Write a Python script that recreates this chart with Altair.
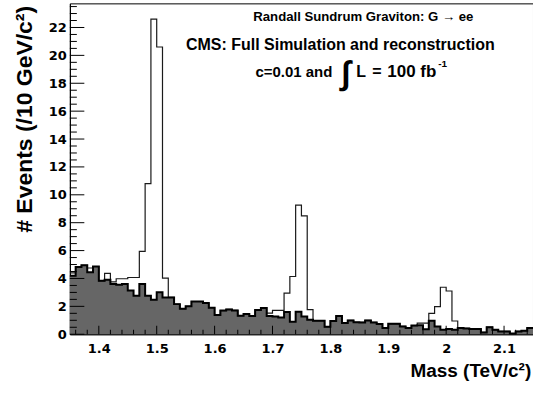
import altair as alt
import pandas as pd

# ---- data (events per 10 GeV bin) ----
bin_start = 1.35
bin_width = 0.01
background = [4.2, 4.82, 4.94, 4.45, 4.86, 3.83, 3.9, 3.6, 3.55, 3.6,
              3.14, 2.76, 3.6, 2.76, 2.47, 3.02, 2.64, 2.64, 2.16, 1.83,
              2.0, 2.35, 2.35, 2.24, 1.9, 1.38, 1.7, 1.78, 1.71, 1.33,
              1.45, 1.3, 1.74, 1.89, 1.3, 1.28, 1.2, 1.6, 0.9, 1.62,
              1.28, 1.04, 0.97, 0.97, 0.53, 0.95, 1.3, 0.8, 0.99, 0.86,
              0.85, 0.99, 0.85, 0.73, 0.44, 0.75, 0.75, 0.56, 0.44, 0.62,
              0.65, 0.35, 0.97, 0.56, 0.32, 0.37, 0.32, 0.44, 0.42, 0.37,
              0.37, 0.13, 0.51, 0.32, 0.2, 0.2, 0.05, 0.2, 0.25, 0.44]
total = [4.4, 4.82, 4.94, 4.75, 4.86, 3.83, 4.36, 3.76, 3.98, 3.98,
         4.07, 4.07, 5.94, 10.8, 22.6, 20.6, 4.03, 2.64, 2.16, 1.83,
         2.0, 2.35, 2.35, 2.24, 1.9, 1.38, 1.7, 1.78, 1.71, 1.33,
         1.45, 1.3, 1.74, 1.89, 1.52, 1.71, 1.71, 2.95, 4.14, 9.26,
         8.49, 1.76, 0.97, 0.97, 0.53, 0.95, 1.3, 0.8, 0.99, 0.86,
         0.85, 0.99, 0.85, 0.73, 0.44, 0.75, 0.75, 0.56, 0.44, 0.62,
         0.8, 0.8, 1.5, 1.98, 3.37, 3.1, 0.95, 0.44, 0.42, 0.37,
         0.37, 0.13, 0.51, 0.32, 0.2, 0.2, 0.05, 0.2, 0.25, 0.44]
x_tick_labels = [1.4, 1.5, 1.6, 1.7, 1.8, 1.9, 2.0, 2.1]
y_tick_labels = [0, 2, 4, 6, 8, 10, 12, 14, 16, 18, 20, 22]
x_domain = [1.35, 2.15]
y_domain = [0, 23.73]

n = len(background)
edges = [round(bin_start + bin_width * k, 2) for k in range(n + 1)]
df = pd.DataFrame({
    "mass": edges,
    "background": background + [background[-1]],
    "total": total + [total[-1]],
})

W, H = 464, 331.5
LABEL_FONT = "DejaVu Sans"
TEXT_FONT = "Liberation Sans, Arial, Helvetica"

xs = alt.Scale(domain=x_domain, nice=False, zero=False)
ys = alt.Scale(domain=y_domain, nice=False, zero=False)

x_axis = alt.Axis(values=x_tick_labels, format="~g", ticks=False, tickSize=0,
                  labelFont=LABEL_FONT, labelFontWeight="bold", labelFontSize=13,
                  labelColor="black", labelPadding=18.2, labelBaseline="alphabetic",
                  labelFlush=False, labelOverlap=False,
                  domain=True, domainColor="black", domainWidth=1, grid=False,
                  title="Mass (TeV/c²)", titleFont=TEXT_FONT, titleFontWeight="bold",
                  titleFontSize=19, titleColor="black", titleX=461.7, titleY=42.2,
                  titleAlign="right", titleAnchor="end", titleBaseline="alphabetic")
y_axis = alt.Axis(values=y_tick_labels, format="d", ticks=False, tickSize=0,
                  labelFont=LABEL_FONT, labelFontWeight="bold", labelFontSize=13,
                  labelColor="black", labelPadding=3.5, labelBaseline="middle",
                  labelFlush=False, labelOverlap=False,
                  domain=True, domainColor="black", domainWidth=1, grid=False,
                  title="# Events (/10 GeV/c²)", titleFont=TEXT_FONT, titleFontWeight="bold",
                  titleFontSize=23, titleColor="black", titleAngle=270, titleX=-38, titleY=2,
                  titleAlign="right", titleBaseline="alphabetic")

X = alt.X("mass:Q", scale=xs, axis=x_axis)

area = alt.Chart(df).mark_area(interpolate="step-after", color="#666666").encode(
    x=X, y=alt.Y("background:Q", scale=ys, axis=y_axis))
total_line = alt.Chart(df).mark_line(interpolate="step-after", color="#1a1a1a",
                                     strokeWidth=1.2).encode(
    x=X, y=alt.Y("total:Q", scale=ys, axis=y_axis))
bg_line = alt.Chart(df).mark_line(interpolate="step-after", color="black",
                                  strokeWidth=2).encode(
    x=X, y=alt.Y("background:Q", scale=ys, axis=y_axis))

# inward ticks (ROOT style)
y_major = pd.DataFrame({"yv": y_tick_labels})
y_minor = pd.DataFrame({"yv": [v / 2 for v in range(0, 48) if v % 4 != 0]})
x_major = pd.DataFrame({"xv": x_tick_labels})
x_minor = pd.DataFrame({"xv": [round(1.36 + 0.02 * k, 2) for k in range(40)
                               if round((1.36 + 0.02 * k) * 10, 6) % 1 != 0]})


def yticks(d, length):
    return alt.Chart(d).mark_rule(color="black", strokeWidth=1).encode(
        y=alt.Y("yv:Q", scale=ys, axis=y_axis), x=alt.value(0), x2=alt.value(length))


def xticks(d, length):
    return alt.Chart(d).mark_rule(color="black", strokeWidth=1).encode(
        x=alt.X("xv:Q", scale=xs, axis=x_axis), y=alt.value(H), y2=alt.value(H - length))


def label(txt, x, y, size, align="center", font=TEXT_FONT, baseline="alphabetic", weight="bold"):
    return alt.Chart(pd.DataFrame({"t": [txt]})).mark_text(
        font=font, fontSize=size, fontWeight=weight, align=align, baseline=baseline,
        color="black").encode(text="t:N", x=alt.value(x), y=alt.value(y))


texts = [
    label("Randall Sundrum Graviton: G → ee", 294, 17.7, 13.2),
    label("CMS: Full Simulation and reconstruction", 271, 46.3, 16),
    label("c=0.01 and", 263, 74, 15, align="right"),
    label("∫", 276.5, 70.5, 33, baseline="middle", weight="bold"),
    label("L", 287, 74, 16, align="left"),
    label("=", 307.5, 74, 16),
    label("100 fb", 318, 74, 17, align="left"),
    label("-1", 369, 64, 10, align="left"),
]

chart = alt.layer(
    area, total_line, bg_line,
    yticks(y_major, 14.5), yticks(y_minor, 7),
    xticks(x_major, 8.5), xticks(x_minor, 4.5),
    *texts
).properties(
    width=W, height=H,
    padding={"left": 70, "top": 3, "right": 0, "bottom": 58.5},
    autosize=alt.AutoSizeParams(type="none"),
    background="white",
).configure_view(stroke="black", strokeWidth=1)

chart.save("out.html", embed_options={"renderer": "svg", "actions": False})
